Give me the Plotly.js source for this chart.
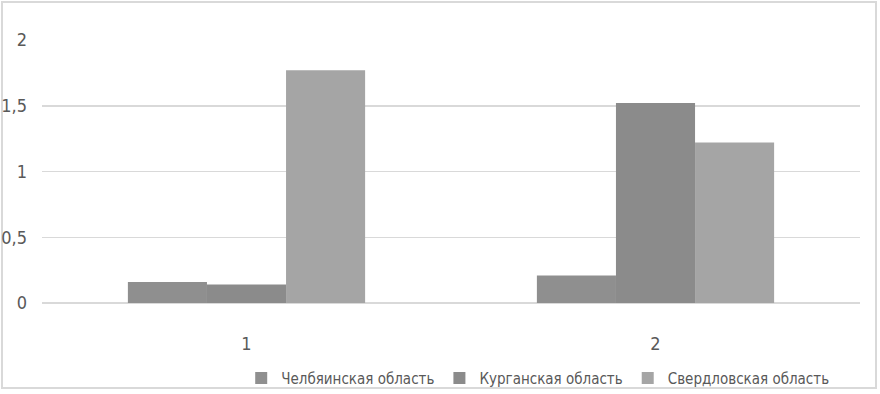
<!DOCTYPE html>
<html><head><meta charset="utf-8">
<script src="https://cdn.plot.ly/plotly-3.0.1.min.js"></script>
<style>
html,body{margin:0;padding:0;background:#fff;}
#frame{position:absolute;left:1px;top:1px;width:876px;height:388px;border:2px solid #d9d9d9;box-sizing:border-box;}
#chart{position:absolute;left:0;top:0;width:880px;height:394px;}
</style></head>
<body>
<div id="frame"></div>
<div id="chart"></div>
<script>
var categories = ['1', '2'];
var seriesNames = ['Челбяинская область', 'Курганская область', 'Свердловская область'];
var chelValues = [0.16, 0.21];
var kurganValues = [0.14, 1.52];
var sverdValues = [1.77, 1.22];
var yTickVals = [0, 0.5, 1, 1.5, 2];
var yTickText = ['0', '0,5', '1', '1,5', '2'];
var colors = ['#8f8f8f', '#8b8b8b', '#a5a5a5'];
var values = [chelValues, kurganValues, sverdValues];

var traces = seriesNames.map(function(n, i){
  return {type:'bar', name:n, x:categories, y:values[i], marker:{color:colors[i], line:{width:0}}};
});

var font = 'DejaVu Sans Condensed, sans-serif';
var layout = {
  width:880, height:394,
  margin:{l:42, r:20, t:40, b:91},
  paper_bgcolor:'rgba(0,0,0,0)', plot_bgcolor:'rgba(0,0,0,0)',
  barmode:'group', bargap:0.42, bargroupgap:0,
  showlegend:true,
  legend:{orientation:'h', x:0.606, xanchor:'center', yref:'container', y:0.04, yanchor:'middle',
          font:{family:font, size:15, color:'#595959'}, itemwidth:30, tracegroupgap:0, bgcolor:'rgba(0,0,0,0)'},
  xaxis:{type:'category', showgrid:false, zeroline:false, showline:false, ticks:'',
         ticklabelstandoff:28, tickfont:{family:font, size:18, color:'#595959'}},
  yaxis:{range:[0,2], tickvals:yTickVals, ticktext:yTickText, showgrid:true, gridcolor:'#d9d9d9', gridwidth:1.5,
         zeroline:true, zerolinecolor:'#d9d9d9', zerolinewidth:1.5, showline:false, ticks:'',
         ticklabelstandoff:14, tickfont:{family:font, size:18, color:'#595959'}},
  font:{family:font}
};
Plotly.newPlot('chart', traces, layout, {displayModeBar:false, staticPlot:true});
</script>
</body></html>
